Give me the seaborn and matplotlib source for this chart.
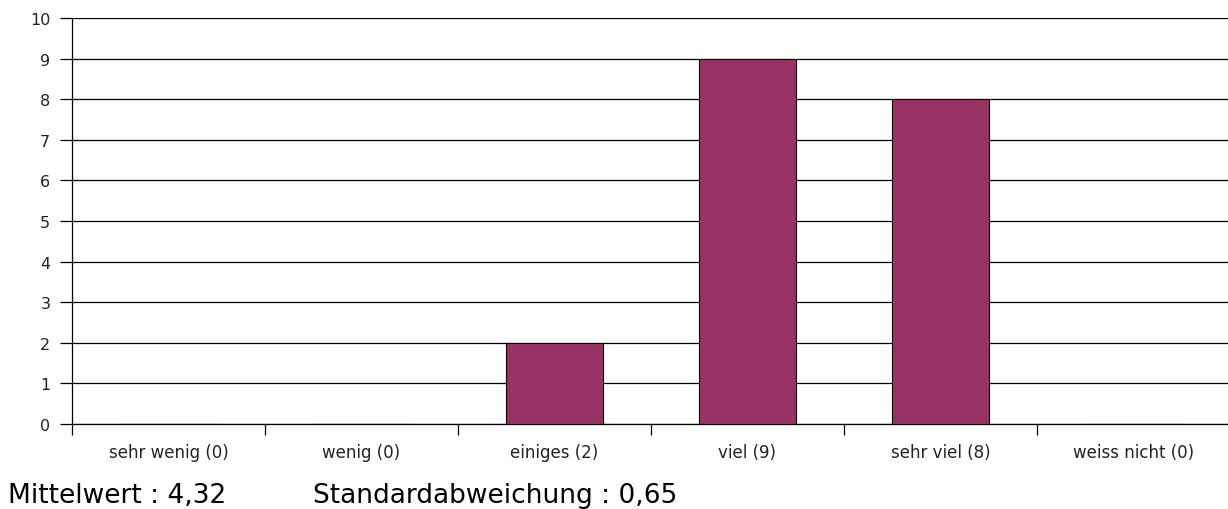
import matplotlib
matplotlib.use("Agg")
import matplotlib.pyplot as plt
import seaborn as sns
import pandas as pd

categories = ["sehr wenig (0)", "wenig (0)", "einiges (2)", "viel (9)", "sehr viel (8)", "weiss nicht (0)"]
values = [0, 0, 2, 9, 8, 0]
y_ticks = list(range(0, 11))
mean_text = "Mittelwert : 4,32"
std_text = "Standardabweichung : 0,65"

sns.set_theme(style="white")
plt.rcParams['font.family'] = ['DejaVu Sans']

df = pd.DataFrame({"cat": categories, "val": values})

fig = plt.figure(figsize=(12.28, 5.10), dpi=100)
ax = fig.add_axes([72/1228, 1-425/510, (6*193)/1228, (425-19)/510])

sns.barplot(data=df, x="cat", y="val", ax=ax, color="#993366", saturation=1,
            width=0.5, edgecolor="black", linewidth=0.8, zorder=3)

ax.set_xlim(-0.5, 5.5)
ax.set_ylim(0, 10)
ax.set_yticks(y_ticks)
ax.yaxis.grid(True, color="black", linewidth=0.9)
ax.set_axisbelow(True)
ax.set_xlabel("")
ax.set_ylabel("")

for s in ["top", "right"]:
    ax.spines[s].set_visible(False)
for s in ["left", "bottom"]:
    ax.spines[s].set_color("black")
    ax.spines[s].set_linewidth(0.9)

ax.tick_params(axis="y", which="major", direction="out", length=8.6, width=0.9,
               color="black", labelsize=11.5, labelcolor="#222222", left=True, pad=7)
# x: tick marks at category boundaries, labels centered
ax.set_xticks(range(len(categories)))
ax.set_xticklabels(categories)
ax.tick_params(axis="x", which="major", length=0, labelsize=12, labelcolor="#222222", pad=14)
ax.set_xticks([i - 0.5 for i in range(len(categories) + 1)], minor=True)
ax.tick_params(axis="x", which="minor", direction="out", length=8, width=0.9, color="black", bottom=True)

fig.text(8/1228, 1-503/510, mean_text, fontsize=19, color="black", va="baseline", ha="left")
fig.text(313/1228, 1-503/510, std_text, fontsize=19, color="black", va="baseline", ha="left")

fig.savefig("out.png", dpi=100)
